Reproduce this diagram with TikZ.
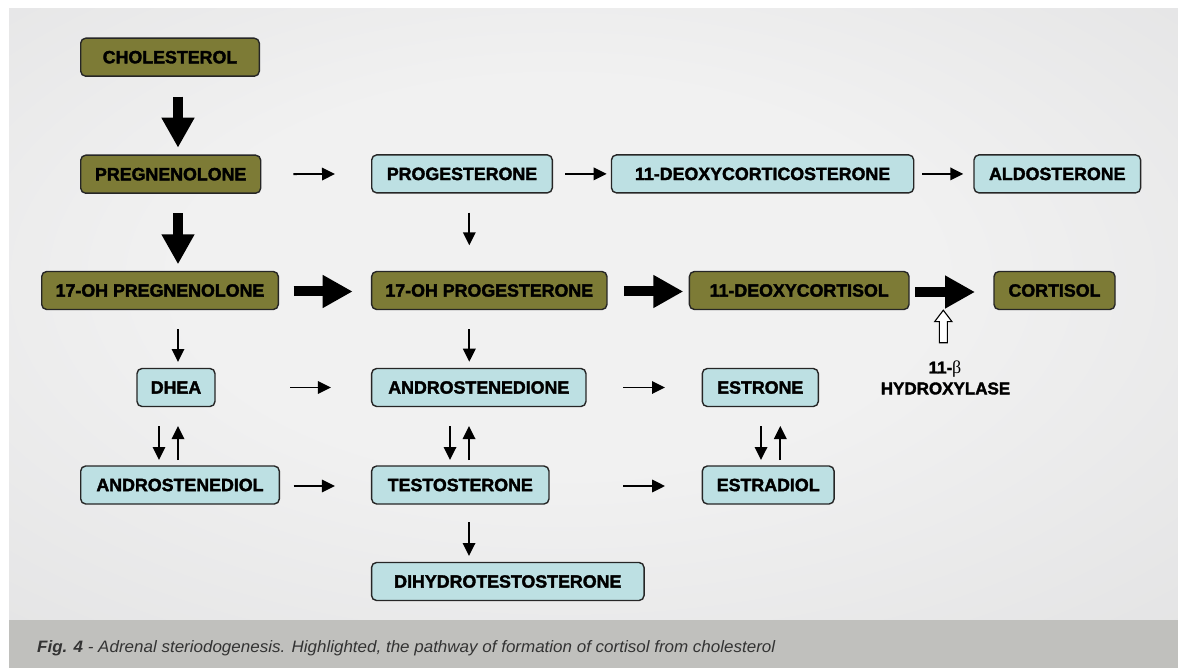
\documentclass[tikz,border=0pt]{standalone}
\usepackage{fontspec}
\setmainfont{Liberation Sans}
\newfontfamily\boxfont[FakeBold=2]{Liberation Sans Bold}
\newfontfamily\capfont[FakeStretch=1.03]{Liberation Sans}
\newfontfamily\greekserif{Liberation Serif}
\usetikzlibrary{arrows.meta}
\definecolor{olivebox}{HTML}{7D7B36}
\definecolor{bluebox}{HTML}{BDE0E3}
\definecolor{bgin}{HTML}{F1F1F1}
\definecolor{bgout}{HTML}{D0D0D2}
\definecolor{capband}{HTML}{C0C0BD}
\definecolor{capgray}{HTML}{333333}
\pgfdeclareradialshading{bgshade}{\pgfpoint{-2bp}{4bp}}{color(0bp)=(bgin); color(16bp)=(bgin); color(72bp)=(bgout)}
\tikzset{
  box/.style={draw=black!85, line width=1.4pt, rounded corners=5pt, minimum height=38pt,
    inner sep=0pt, outer sep=0pt, text=black,
    font=\boxfont\fontsize{17.8}{20}\selectfont},
  hl/.style={box, fill=olivebox},
  lb/.style={box, fill=bluebox},
  bigarrow/.style={line width=10pt, -{Triangle[length=30pt 0 0, width=31pt 0 0]}},
  smallarrow/.style={line width=1.8pt, -{Triangle[length=13pt 0 0, width=12.5pt 0 0]}},
  lbl/.style={font=\boxfont\fontsize{17}{20}\selectfont, inner sep=0pt}
}
\begin{document}
\begin{tikzpicture}[x=1pt,y=-1pt]
\useasboundingbox (0,0) rectangle (1178,668);
\fill[white] (0,0) rectangle (1178,668);
\shade[shading=bgshade] (9,9) rectangle (1178,620);
\fill[capband] (9,620) rectangle (1178,668);

% nodes
\node[hl, minimum width=178.6pt] (chol) at (170,57.2) {CHOLESTEROL};
\node[hl, minimum width=180pt] (preg) at (170.7,174.2) {PREGNENOLONE};
\node[hl, minimum width=236.6pt] (ohpreg) at (160,290.5) {17-OH PREGNENOLONE};
\node[lb, minimum width=180.6pt] (prog) at (462,173.9) {PROGESTERONE};
\node[lb, minimum width=302.2pt] (doc) at (762.6,173.9) {11-DEOXYCORTICOSTERONE};
\node[lb, minimum width=166.6pt] (aldo) at (1057.3,173.9) {ALDOSTERONE};
\node[hl, minimum width=235.3pt] (ohprog) at (489.3,290.5) {17-OH PROGESTERONE};
\node[hl, minimum width=219.6pt] (dcort) at (799.2,290.5) {11-DEOXYCORTISOL};
\node[hl, minimum width=121pt] (cort) at (1054.5,290.5) {CORTISOL};
\node[lb, minimum width=78pt] (dhea) at (176,387.5) {DHEA};
\node[lb, minimum width=214.3pt] (andione) at (478.8,387.5) {ANDROSTENEDIONE};
\node[lb, minimum width=116pt] (estrone) at (760.3,387.5) {ESTRONE};
\node[lb, minimum width=198.6pt] (andiol) at (180,485) {ANDROSTENEDIOL};
\node[lb, minimum width=177.3pt] (testo) at (460.3,485) {TESTOSTERONE};
\node[lb, minimum width=131.7pt] (estradiol) at (768.2,485) {ESTRADIOL};
\node[lb, minimum width=272.5pt] (dht) at (507.8,581.5) {DIHYDROTESTOSTERONE};

% big arrows (cortisol pathway)
\draw[bigarrow, shorten <=20.5pt, shorten >=7.5pt] ([xshift=8pt]chol.south) -- ([xshift=7.3pt]preg.north);
\draw[bigarrow, shorten <=20.1pt, shorten >=7.2pt] ([xshift=7.3pt]preg.south) -- ([xshift=18pt]ohpreg.north);
\draw[bigarrow, shorten <=15.2pt, shorten >=19pt] ([yshift=-1pt]ohpreg.east) -- ([yshift=-1pt]ohprog.west);
\draw[bigarrow, shorten <=17pt, shorten >=6.1pt] ([yshift=-1pt]ohprog.east) -- ([yshift=-1pt]dcort.west);
\draw[bigarrow, shorten <=6pt, shorten >=19pt] ([yshift=-1.5pt]dcort.east) -- ([yshift=-1.5pt]cort.west);

% small arrows
\draw[smallarrow, shorten <=32.6pt, shorten >=36.7pt] (preg.east) -- (prog.west);
\draw[smallarrow, shorten <=12.7pt, shorten >=4.8pt] (prog.east) -- (doc.west);
\draw[smallarrow, shorten <=8.3pt, shorten >=10.7pt] (doc.east) -- (aldo.west);
\draw[smallarrow, shorten <=19.8pt, shorten >=26.2pt] ([xshift=7.3pt]prog.south) -- ([xshift=-20pt]ohprog.north);
\draw[smallarrow, shorten <=20pt, shorten >=6.5pt] ([xshift=18pt]ohpreg.south) -- ([xshift=2pt]dhea.north);
\draw[smallarrow, shorten <=19.8pt, shorten >=6.8pt] ([xshift=-20pt]ohprog.south) -- ([xshift=-9.5pt]andione.north);
\draw[smallarrow, shorten <=75pt, shorten >=40.7pt] (dhea.east) -- (andione.west);
\draw[smallarrow, shorten <=37.3pt, shorten >=37.3pt] (andione.east) -- (estrone.west);
\draw[smallarrow, shorten <=14.2pt, shorten >=36.7pt] ([yshift=-1pt]andiol.east) -- ([yshift=-1pt]testo.west);
\draw[smallarrow, shorten <=74.3pt, shorten >=37.3pt] ([yshift=-1pt]testo.east) -- ([yshift=-1pt]estradiol.west);
\draw[smallarrow, shorten <=18pt, shorten >=6.5pt] ([xshift=8.7pt]testo.south) -- ([xshift=-38.8pt]dht.north);
% reversible pairs
\draw[smallarrow, shorten <=19.5pt, shorten >=6pt] ([xshift=-17pt]dhea.south) -- ([xshift=-21pt]andiol.north);
\draw[smallarrow, shorten <=6pt, shorten >=19.5pt] ([xshift=-2pt]andiol.north) -- ([xshift=2pt]dhea.south);
\draw[smallarrow, shorten <=19.5pt, shorten >=6pt] ([xshift=-28.8pt]andione.south) -- ([xshift=-10.3pt]testo.north);
\draw[smallarrow, shorten <=6pt, shorten >=19.5pt] ([xshift=8.7pt]testo.north) -- ([xshift=-9.8pt]andione.south);
\draw[smallarrow, shorten <=19.5pt, shorten >=6pt] ([xshift=0.7pt]estrone.south) -- ([xshift=-7.2pt]estradiol.north);
\draw[smallarrow, shorten <=6pt, shorten >=19.5pt] ([xshift=12.1pt]estradiol.north) -- ([xshift=20pt]estrone.south);

% enzyme (hollow arrow) and label
\begin{scope}[shift={(943.3,342.7)}]
\draw[line width=1.1pt, fill=white, line join=miter]
  (-4,0) -- (4,0) -- (4,-21) -- (8.7,-21) -- (0,-32.5) -- (-8.7,-21) -- (-4,-21) -- cycle;
\end{scope}
\node[lbl] (enz1) at (945,369) {11-{\greekserif\fontsize{18}{20}\selectfont β}};
\node[lbl] (enz2) at (945.5,388.5) {HYDROXYLASE};

% caption
\node[anchor=west, inner sep=0pt, text=capgray, font=\capfont\itshape\fontsize{16.5}{20}\selectfont] (cap) at (37,648)
  {\textbf{Fig. 4} - Adrenal steriodogenesis. Highlighted, the pathway of formation of cortisol from cholesterol};
\end{tikzpicture}
\end{document}
